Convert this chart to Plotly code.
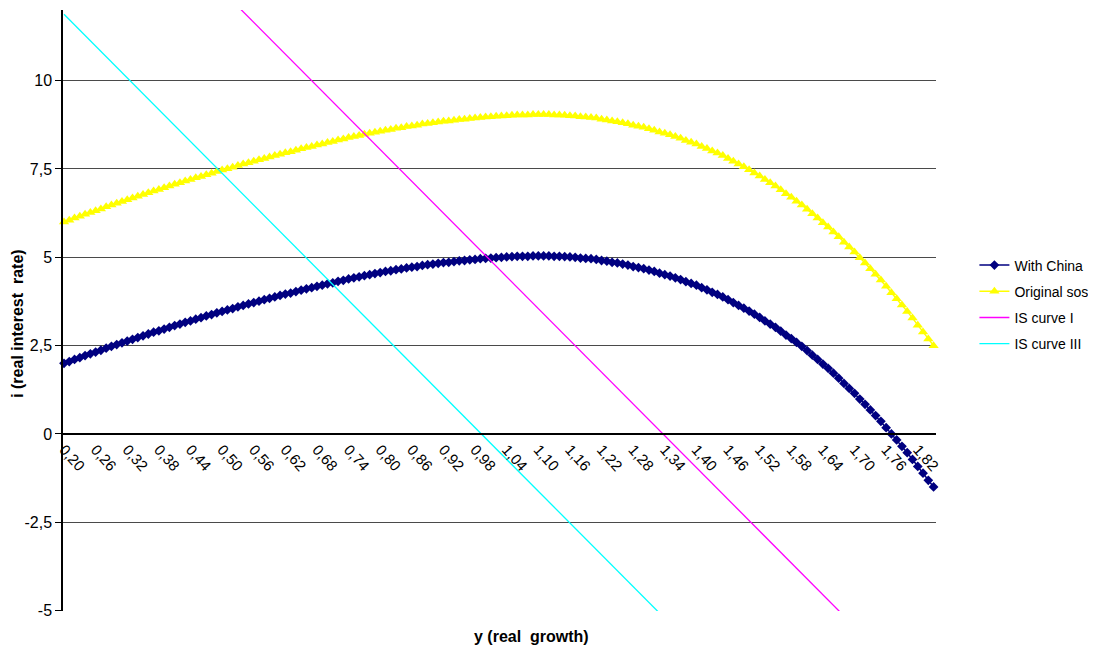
import plotly.graph_objects as go

# ---------------- data ----------------
Y_FIRST, Y_STEP, N_CAT = 0.20, 0.01, 166
growth = [round(Y_FIRST + Y_STEP * i, 2) for i in range(N_CAT)]  # category axis 0,20 ... 1,85

with_china = [
    2.00, 2.05, 2.11, 2.16, 2.22, 2.27,
    2.32, 2.37, 2.43, 2.48, 2.53,
    2.58, 2.63, 2.68, 2.73, 2.78,
    2.83, 2.88, 2.92, 2.97, 3.02,
    3.07, 3.11, 3.16, 3.20, 3.25,
    3.29, 3.34, 3.38, 3.43, 3.47,
    3.51, 3.55, 3.60, 3.64, 3.68,
    3.72, 3.76, 3.80, 3.84, 3.88,
    3.92, 3.96, 3.99, 4.03, 4.07,
    4.11, 4.14, 4.18, 4.21, 4.25,
    4.28, 4.32, 4.35, 4.39, 4.42,
    4.45, 4.48, 4.51, 4.54, 4.57,
    4.60, 4.62, 4.65, 4.67, 4.70,
    4.72, 4.74, 4.77, 4.79, 4.81,
    4.83, 4.85, 4.86, 4.88, 4.90,
    4.91, 4.93, 4.94, 4.96, 4.97,
    4.98, 4.99, 5.00, 5.01, 5.02,
    5.03, 5.03, 5.03, 5.04, 5.04,
    5.04, 5.04, 5.03, 5.03, 5.02,
    5.01, 5.00, 4.98, 4.97, 4.96,
    4.94, 4.91, 4.89, 4.86, 4.84,
    4.81, 4.78, 4.74, 4.71, 4.68,
    4.64, 4.60, 4.55, 4.51, 4.47,
    4.42, 4.37, 4.31, 4.26, 4.21,
    4.14, 4.08, 4.01, 3.95, 3.88,
    3.80, 3.72, 3.64, 3.56, 3.48,
    3.39, 3.30, 3.20, 3.11, 3.02,
    2.91, 2.80, 2.70, 2.59, 2.48,
    2.36, 2.23, 2.11, 1.98, 1.86,
    1.72, 1.58, 1.43, 1.29, 1.15,
    0.99, 0.84, 0.68, 0.52, 0.36,
    0.18, 0.00, -0.17, -0.35, -0.53,
    -0.72, -0.92, -1.11, -1.31, -1.50,
]

original_sos = [
    6.00, 6.05, 6.11, 6.16, 6.22, 6.27,
    6.32, 6.37, 6.43, 6.48, 6.53,
    6.58, 6.63, 6.68, 6.73, 6.78,
    6.83, 6.88, 6.92, 6.97, 7.02,
    7.07, 7.11, 7.16, 7.20, 7.25,
    7.29, 7.34, 7.38, 7.43, 7.47,
    7.51, 7.55, 7.60, 7.64, 7.68,
    7.72, 7.76, 7.80, 7.84, 7.88,
    7.92, 7.96, 7.99, 8.03, 8.07,
    8.11, 8.14, 8.18, 8.21, 8.25,
    8.28, 8.32, 8.35, 8.39, 8.42,
    8.45, 8.48, 8.51, 8.54, 8.57,
    8.60, 8.62, 8.65, 8.67, 8.70,
    8.72, 8.74, 8.77, 8.79, 8.81,
    8.83, 8.85, 8.86, 8.88, 8.90,
    8.91, 8.93, 8.94, 8.96, 8.97,
    8.98, 8.99, 9.00, 9.01, 9.02,
    9.03, 9.03, 9.03, 9.04, 9.04,
    9.04, 9.04, 9.03, 9.03, 9.02,
    9.01, 9.00, 8.98, 8.97, 8.96,
    8.94, 8.91, 8.89, 8.86, 8.84,
    8.81, 8.78, 8.74, 8.71, 8.68,
    8.64, 8.60, 8.55, 8.51, 8.47,
    8.42, 8.37, 8.31, 8.26, 8.21,
    8.14, 8.08, 8.01, 7.95, 7.88,
    7.80, 7.72, 7.64, 7.56, 7.48,
    7.39, 7.30, 7.20, 7.11, 7.02,
    6.91, 6.80, 6.70, 6.59, 6.48,
    6.36, 6.23, 6.11, 5.98, 5.86,
    5.72, 5.58, 5.43, 5.29, 5.15,
    4.99, 4.84, 4.68, 4.52, 4.36,
    4.18, 4.00, 3.83, 3.65, 3.47,
    3.28, 3.08, 2.89, 2.69, 2.50,
]

# IS curve I (visible part, first value at y = 0,50)
is_curve_1_first = 0.50
is_curve_1 = [
    12.55, 12.40, 12.25, 12.10, 11.95, 11.80, 11.65, 11.50, 11.35, 11.20,
    11.05, 10.90, 10.75, 10.60, 10.45, 10.30, 10.15, 10.00, 9.85, 9.70,
    9.55, 9.40, 9.25, 9.10, 8.95, 8.80, 8.65, 8.50, 8.35, 8.20,
    8.05, 7.90, 7.75, 7.60, 7.45, 7.30, 7.15, 7.00, 6.85, 6.70,
    6.55, 6.40, 6.25, 6.10, 5.95, 5.80, 5.65, 5.50, 5.35, 5.20,
    5.05, 4.90, 4.75, 4.60, 4.45, 4.30, 4.15, 4.00, 3.85, 3.70,
    3.55, 3.40, 3.25, 3.10, 2.95, 2.80, 2.65, 2.50, 2.35, 2.20,
    2.05, 1.90, 1.75, 1.60, 1.45, 1.30, 1.15, 1.00, 0.85, 0.70,
    0.55, 0.40, 0.25, 0.10, -0.05, -0.20, -0.35, -0.50, -0.65, -0.80,
    -0.95, -1.10, -1.25, -1.40, -1.55, -1.70, -1.85, -2.00, -2.15, -2.30,
    -2.45, -2.60, -2.75, -2.90, -3.05, -3.20, -3.35, -3.50, -3.65, -3.80,
    -3.95, -4.10, -4.25, -4.40, -4.55, -4.70, -4.85, -5.00, -5.15, -5.30,
    -5.45,
]

# IS curve III (visible part, first value at y = 0,20)
is_curve_3_first = 0.20
is_curve_3 = [
    11.88, 11.73, 11.58, 11.43, 11.28, 11.13, 10.98, 10.83, 10.68, 10.53,
    10.38, 10.23, 10.08, 9.93, 9.78, 9.63, 9.48, 9.33, 9.18, 9.03,
    8.88, 8.73, 8.58, 8.43, 8.28, 8.13, 7.98, 7.83, 7.68, 7.53,
    7.38, 7.23, 7.08, 6.93, 6.78, 6.63, 6.48, 6.33, 6.18, 6.03,
    5.88, 5.73, 5.58, 5.43, 5.28, 5.13, 4.98, 4.83, 4.68, 4.53,
    4.38, 4.23, 4.08, 3.93, 3.78, 3.63, 3.48, 3.33, 3.18, 3.03,
    2.88, 2.73, 2.58, 2.43, 2.28, 2.13, 1.98, 1.83, 1.68, 1.53,
    1.38, 1.23, 1.08, 0.93, 0.78, 0.63, 0.48, 0.33, 0.18, 0.03,
    -0.12, -0.27, -0.42, -0.57, -0.72, -0.87, -1.02, -1.17, -1.32, -1.47,
    -1.62, -1.77, -1.92, -2.07, -2.22, -2.37, -2.52, -2.67, -2.82, -2.97,
    -3.12, -3.27, -3.42, -3.57, -3.72, -3.87, -4.02, -4.17, -4.32, -4.47,
    -4.62, -4.77, -4.92, -5.07, -5.22, -5.37,
]

x_tick_labels = ["0,20", "0,26", "0,32", "0,38", "0,44", "0,50", "0,56", "0,62",
                 "0,68", "0,74", "0,80", "0,86", "0,92", "0,98", "1,04", "1,10",
                 "1,16", "1,22", "1,28", "1,34", "1,40", "1,46", "1,52", "1,58",
                 "1,64", "1,70", "1,76", "1,82"]
y_tick_values = [-5, -2.5, 0, 2.5, 5, 7.5, 10]
y_tick_labels = ["-5", "-2,5", "0", "2,5", "5", "7,5", "10"]

X_TITLE = "y (real  growth)"
Y_TITLE = "i (real interest  rate)"

# ---------------- figure ----------------
FONT = "Arial, Liberation Sans, sans-serif"
Y_RANGE = [-5.01, 12]
X_RANGE = [0.1981, 1.8546]
zero_pos = (0 - Y_RANGE[0]) / (Y_RANGE[1] - Y_RANGE[0])


def cat_slice(first, values):
    i0 = int(round((first - Y_FIRST) / Y_STEP))
    return growth[i0:i0 + len(values)]


fig = go.Figure()
fig.add_trace(go.Scatter(
    x=growth, y=with_china, name="With China", mode="lines+markers",
    line=dict(color="#000080", width=1.5),
    marker=dict(symbol="diamond", size=7.5, color="#000080"),
    cliponaxis=False, legendgroup="a"))
fig.add_trace(go.Scatter(
    x=growth, y=original_sos, name="Original sos", mode="lines+markers",
    line=dict(color="#FFFF00", width=1.5),
    marker=dict(symbol="triangle-up", size=9, color="#FFFF00"),
    cliponaxis=False, legendgroup="b"))
fig.add_trace(go.Scatter(
    x=cat_slice(is_curve_1_first, is_curve_1), y=is_curve_1, name="IS curve I",
    mode="lines", line=dict(color="#FF00FF", width=1.3), legendgroup="c"))
fig.add_trace(go.Scatter(
    x=cat_slice(is_curve_3_first, is_curve_3), y=is_curve_3, name="IS curve III",
    mode="lines", line=dict(color="#00FFFF", width=1.3), legendgroup="d"))

# the page body adds an 8px offset, so the figure is 8px smaller and margins shifted
fig.update_layout(
    width=1088, height=644,
    margin=dict(l=55, r=160, t=2, b=41),
    paper_bgcolor="white", plot_bgcolor="white",
    font=dict(family=FONT, color="black", size=14),
    showlegend=True,
    legend=dict(x=1.044, y=0.51, xanchor="left", yanchor="middle",
                font=dict(size=14, family=FONT), tracegroupgap=5,
                bgcolor="rgba(0,0,0,0)", itemwidth=30),
    xaxis=dict(
        range=X_RANGE, anchor="free", position=zero_pos,
        tickmode="array",
        tickvals=[float(t.replace(",", ".")) for t in x_tick_labels],
        ticktext=x_tick_labels, tickangle=48, ticks="",
        tickfont=dict(size=15, family=FONT),
        showgrid=False, zeroline=False,
        showline=True, linecolor="black", linewidth=2),
    xaxis2=dict(
        range=X_RANGE, overlaying="x", anchor="free", position=zero_pos,
        tickmode="linear", tick0=Y_FIRST, dtick=0.05,
        ticks="outside", ticklen=5, tickwidth=1.3, tickcolor="black",
        showticklabels=False, showgrid=False, zeroline=False, showline=False),
    yaxis=dict(
        range=Y_RANGE, tickmode="array", tickvals=y_tick_values,
        ticktext=y_tick_labels, ticks="outside", ticklen=6, tickwidth=1.3,
        tickcolor="black", tickfont=dict(size=16, family=FONT),
        showgrid=True, gridcolor="#4a4a4a", gridwidth=1.4,
        zeroline=False, showline=True, linecolor="black", linewidth=1.5),
    annotations=[
        dict(text="<b>" + X_TITLE + "</b>", x=0.537, y=-0.042, xref="paper",
             yref="paper", xanchor="center", yanchor="middle", showarrow=False,
             font=dict(size=16, family=FONT)),
        dict(text="<b>" + Y_TITLE + "</b>", x=-0.053, y=0.479, xref="paper",
             yref="paper", xanchor="center", yanchor="middle", showarrow=False,
             textangle=-90, font=dict(size=16, family=FONT)),
    ],
)

fig.write_html("out.html")
